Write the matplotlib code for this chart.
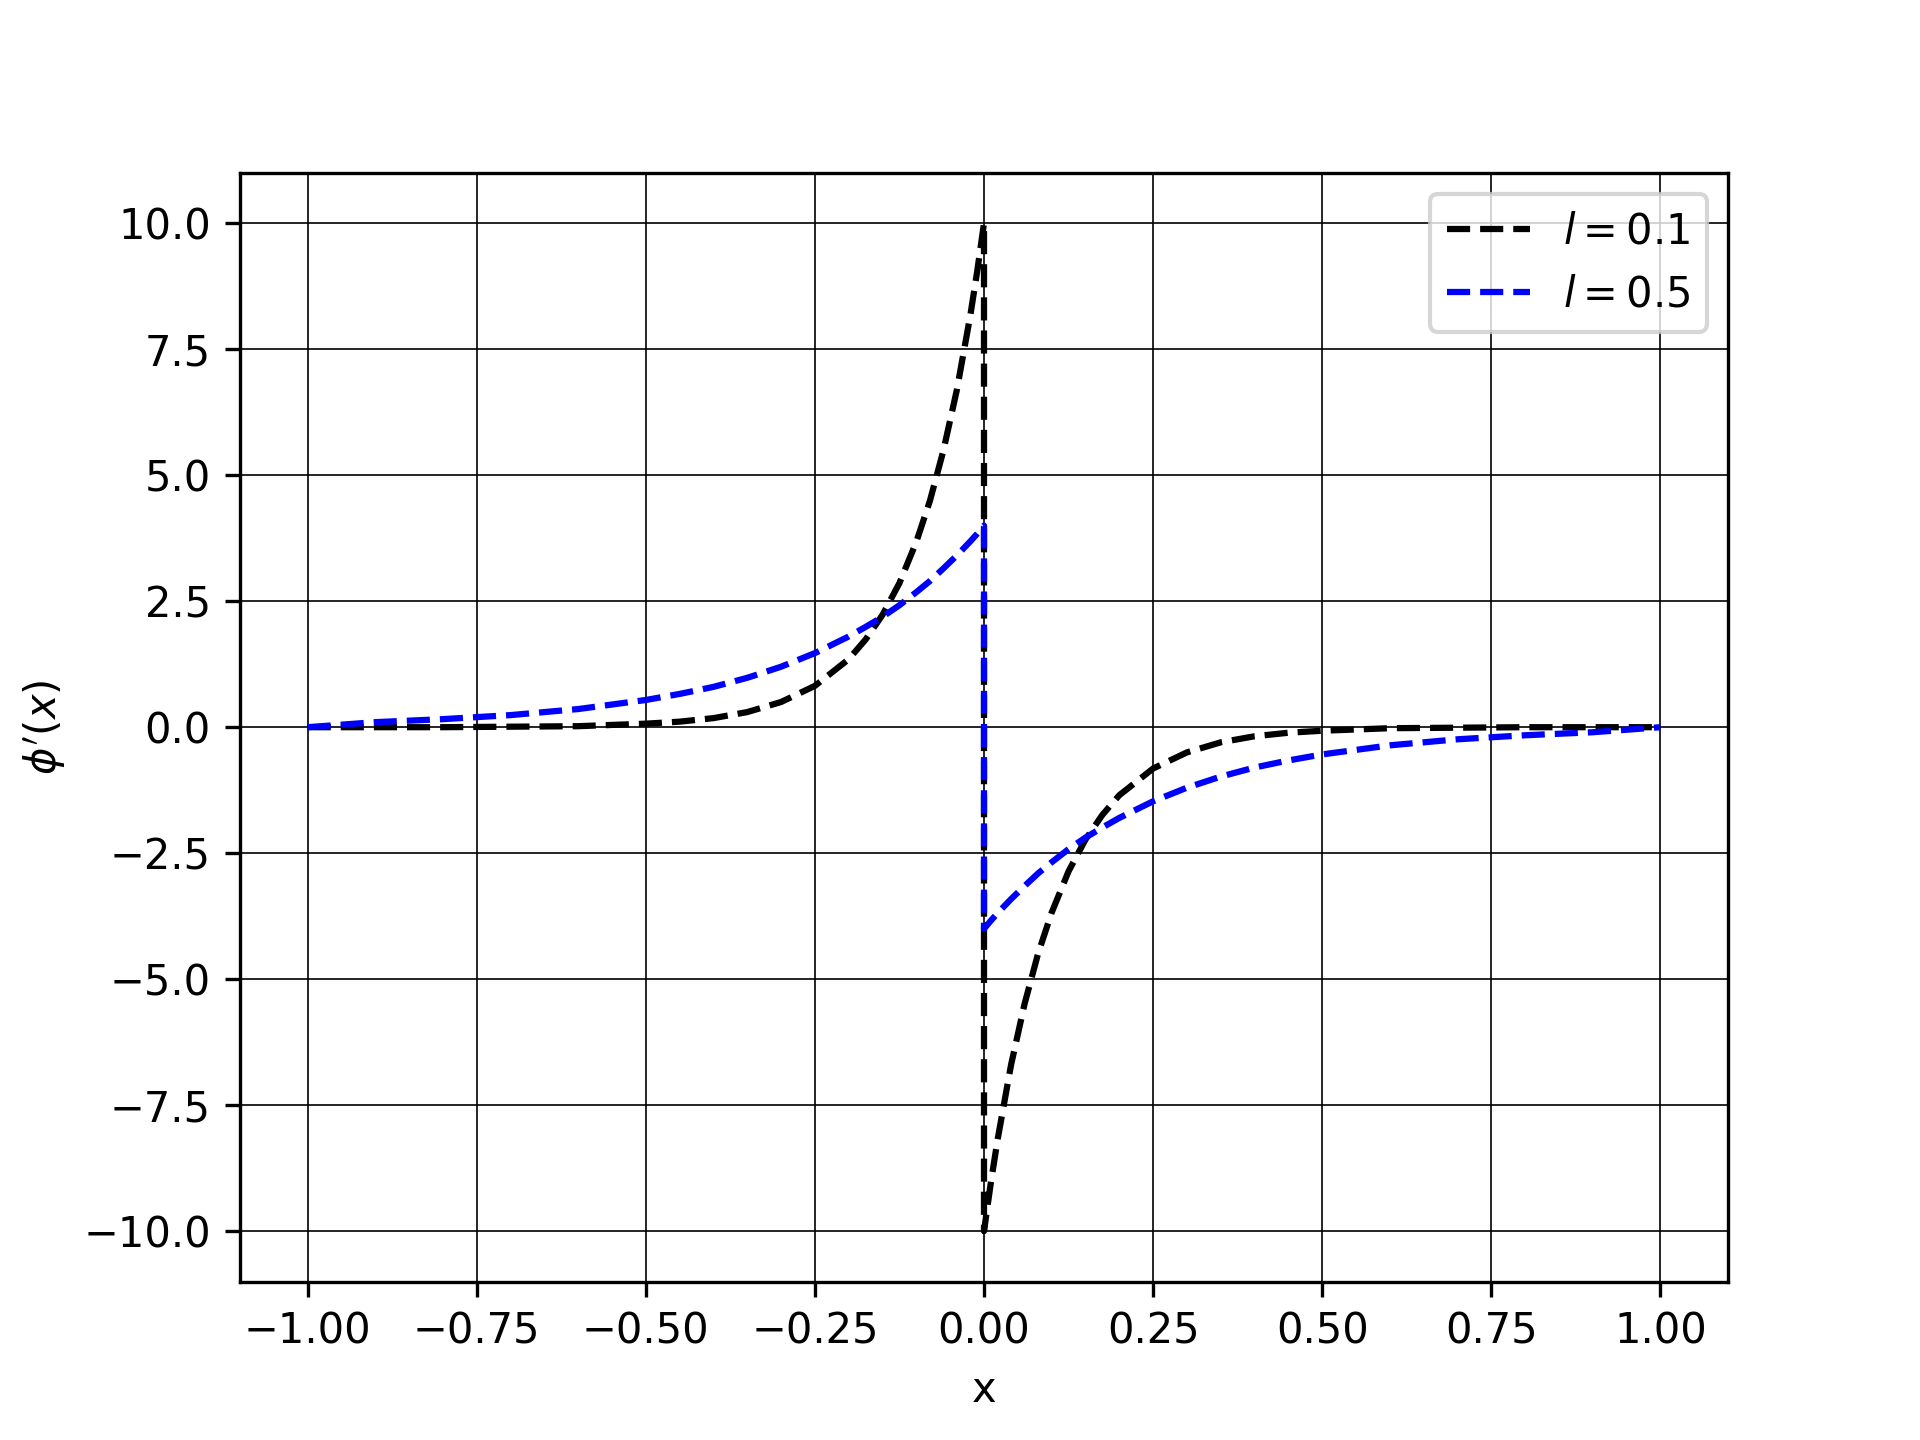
import numpy as np
import matplotlib
matplotlib.use("Agg")
import matplotlib.pyplot as plt

# values (x = 0 appears twice: the jump)
x_pts = [-1.0, -0.9, -0.8, -0.7, -0.6, -0.5, -0.45, -0.4, -0.35, -0.3, -0.25,
         -0.2, -0.175, -0.15, -0.125, -0.1, -0.08, -0.06, -0.04, -0.02, -0.01, 0.0,
         0.0, 0.01, 0.02, 0.04, 0.06, 0.08, 0.1, 0.125, 0.15, 0.175, 0.2,
         0.25, 0.3, 0.35, 0.4, 0.45, 0.5, 0.6, 0.7, 0.8, 0.9, 1.0]

phi_l01 = [0.0, 0.0, 0.0, 0.01, 0.02, 0.07, 0.11, 0.18, 0.30, 0.50, 0.82,
           1.35, 1.74, 2.23, 2.86, 3.68, 4.49, 5.49, 6.70, 8.19, 9.05, 10.0,
           -10.0, -9.05, -8.19, -6.70, -5.49, -4.49, -3.68, -2.86, -2.23, -1.74, -1.35,
           -0.82, -0.50, -0.30, -0.18, -0.11, -0.07, -0.02, -0.01, 0.0, 0.0, 0.0]

phi_l05 = [0.0, 0.10, 0.16, 0.24, 0.36, 0.54, 0.66, 0.80, 0.98, 1.20, 1.47,
           1.80, 1.99, 2.19, 2.42, 2.68, 2.90, 3.15, 3.41, 3.69, 3.84, 4.0,
           -4.0, -3.84, -3.69, -3.41, -3.15, -2.90, -2.68, -2.42, -2.19, -1.99, -1.80,
           -1.47, -1.20, -0.98, -0.80, -0.66, -0.54, -0.36, -0.24, -0.16, -0.10, 0.0]

labels = [r'$l = 0.1$', r'$l = 0.5$']

fig, ax = plt.subplots(figsize=(6.4, 4.8), dpi=300)
ax.plot(x_pts, phi_l01, 'k--', label=labels[0])
ax.plot(x_pts, phi_l05, 'b--', label=labels[1])
ax.set_xlabel('x')
ax.set_ylabel(r"$\phi'(x)$")
ax.grid(color='k', linewidth=0.4)
ax.legend(loc='upper right')
fig.savefig('out.png', dpi=300)
